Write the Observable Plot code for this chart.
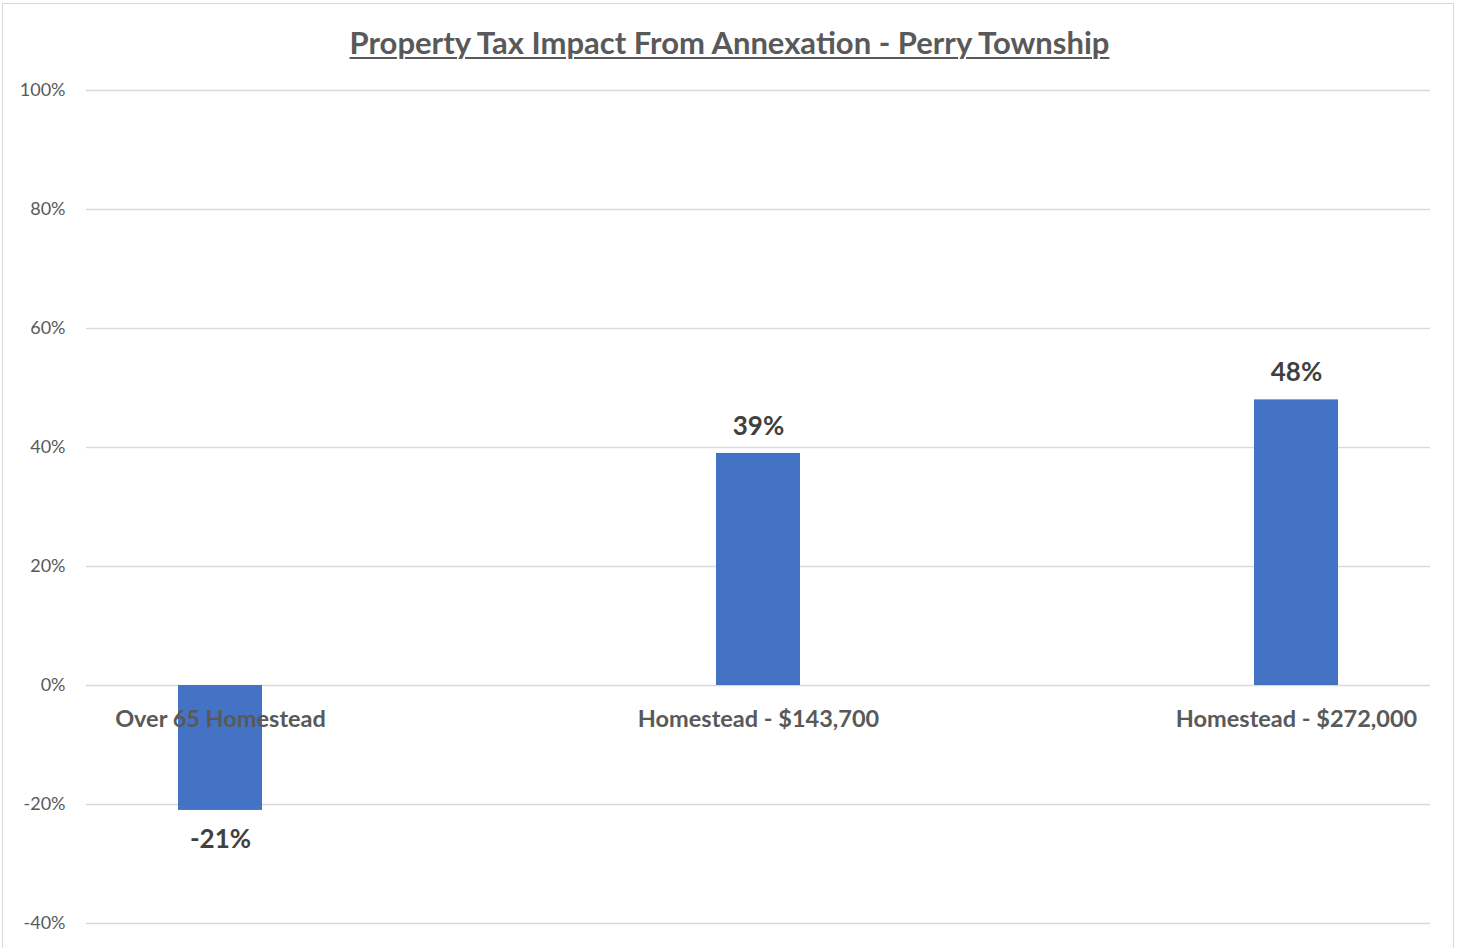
<!DOCTYPE html>
<html>
<head>
<meta charset="utf-8">
<script src="https://cdn.jsdelivr.net/npm/d3@7"></script>
<script src="https://cdn.jsdelivr.net/npm/@observablehq/plot@0.6"></script>
<style>
  html, body { margin: 0; padding: 0; background: #fff; overflow: hidden; }
  #wrap { position: relative; width: 1459px; height: 948px; }
  #border { position: absolute; left: 2px; top: 3px; width: 1452px; height: 980px; border: 1.5px solid #d9d9d9; box-sizing: border-box; }
  #title { position: absolute; left: 0; top: 23px; width: 1459px; text-align: center; font-family: Lato, "Open Sans", sans-serif; font-weight: bold; font-size: 31px; color: #595959; text-decoration: underline; text-underline-offset: 3px; text-decoration-thickness: 2px; }
  #chart { position: absolute; left: 0; top: 70px; }
</style>
</head>
<body>
<div id="wrap">
  <div id="border"></div>
  <div id="title">Property Tax Impact From Annexation - Perry Township</div>
  <div id="chart"></div>
</div>
<script>
const categories = ["Over 65 Homestead", "Homestead - $143,700", "Homestead - $272,000"];
const values = [-0.21, 0.39, 0.48];
const yTicks = [-0.4, -0.2, 0, 0.2, 0.4, 0.6, 0.8, 1.0];

const data = categories.map((c, i) => ({category: c, value: values[i]}));
const pct = v => d3.format(".0%")(v).replace("\u2212", "-");

const plot = Plot.plot({
  width: 1459,
  height: 878,
  marginLeft: 86,
  marginRight: 29,
  marginTop: 20,
  marginBottom: 25,
  style: {fontFamily: "Lato, 'Open Sans', sans-serif", background: "transparent"},
  x: {type: "band", domain: categories, range: [178, 1338], paddingInner: 0.844, paddingOuter: 0, axis: null},
  y: {domain: [-0.4, 1.0], ticks: yTicks},
  marks: [
    Plot.ruleY(yTicks, {stroke: "#d9d9d9", strokeWidth: 1.3}),
    Plot.axisY({ticks: yTicks, tickFormat: pct, tickSize: 0, tickPadding: 21, fontSize: 18, fill: "#595959", label: null}),
    Plot.barY(data, {x: "category", y: "value", fill: "#4472c4"}),
    Plot.text(data, {x: "category", y: d => 0, text: d => d.category, dy: 34, fontSize: 23.5, fontWeight: "bold", fill: "#595959"}),
    Plot.text(data.filter(d => d.value >= 0), {x: "category", y: "value", text: d => pct(d.value), dy: -27, fontSize: 26, fontWeight: "bold", fill: "#404040"}),
    Plot.text(data.filter(d => d.value < 0), {x: "category", y: "value", text: d => pct(d.value), dy: 29, fontSize: 26, fontWeight: "bold", fill: "#404040"})
  ]
});
document.getElementById("chart").appendChild(plot);
</script>
</body>
</html>
